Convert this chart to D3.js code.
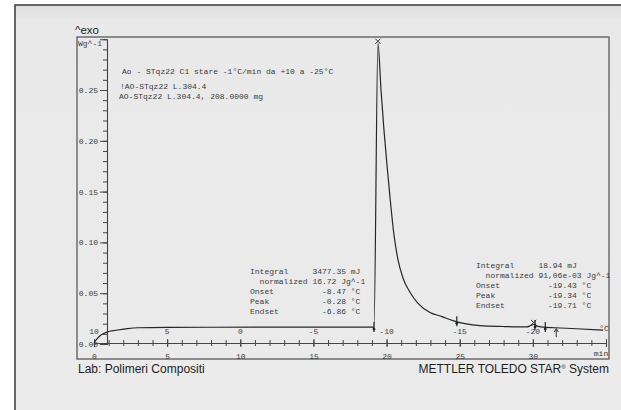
<!DOCTYPE html>
<html>
<head>
<meta charset="utf-8">
<script src="https://cdn.jsdelivr.net/npm/d3@7"></script>
<style>
  html, body { margin: 0; padding: 0; background: #ffffff; }
  svg { display: block; }
  .mono { font-family: "Courier New", "Liberation Mono", monospace; font-size: 8px; fill: #3a3a3a; white-space: pre; }
  .sans { font-family: Arial, "Liberation Sans", sans-serif; fill: #1e1e1e; }
</style>
</head>
<body>
<script>
// DSC cooling run: heat flow (W/g) against time (min), cooling 1 °C/min from +10 °C
const timeMin = [0, 0.2, 0.5, 0.9, 1.5, 2.3, 3.0, 5, 8, 12, 16, 19.0, 19.14, 19.41, 19.62, 19.82,
  20.03, 20.23, 20.51, 20.78, 21.12, 21.60, 22.15, 22.97, 23.79, 24.54, 25.36, 26.38, 28,
  29.6, 29.85, 30.05, 30.3, 30.7, 31.5, 33, 34.8];
const heatFlow = [0.001, 0.005, 0.009, 0.0118, 0.0135, 0.0152, 0.0160, 0.0164, 0.0165, 0.0166,
  0.0167, 0.0167, 0.0167, 0.296, 0.250, 0.211, 0.176, 0.145, 0.107, 0.083, 0.065, 0.051, 0.040,
  0.031, 0.027, 0.023, 0.020, 0.018, 0.0172, 0.0168, 0.0182, 0.0192, 0.0176, 0.0166, 0.0160,
  0.0150, 0.0136];

// Peak maxima (×) and integration limits
const peakTimes = [19.41, 30.05];
const peakValues = [0.296, 0.0192];
const limitTimes = [19.14, 24.8, 30.15, 30.85];
const limitValues = [0.0167, 0.0223, 0.0188, 0.0168];
const arrowTimes = [31.6];

// Axis ticks
const heatTicksMajor = [0, 0.05, 0.10, 0.15, 0.20, 0.25];
const heatTicksMinor = d3.range(0, 31).map(i => i / 100);
const timeTicksMajor = [0, 5, 10, 15, 20, 25, 30, 35];
const timeTicksMinor = d3.range(0, 36);
const timeLabels = ["0", "5", "10", "15", "20", "25", "30", ""];
const tempLabels = ["10", "5", "0", "-5", "-10", "-15", "-20"];
const tempAtTime = [0, 5, 10, 15, 20, 25, 30];

// Text blocks
const headerLines = [
  "Ao - STqz22 C1 stare -1°C/min da +10 a -25°C",
  "!AO-STqz22 L.304.4",
  "AO-STqz22 L.304.4, 208.0000 mg"
];
const resultMain = [
  "Integral     3477.35 mJ",
  "  normalized 16.72 Jg^-1",
  "Onset          -8.47 °C",
  "Peak           -0.28 °C",
  "Endset         -6.86 °C"
];
const resultSmall = [
  "Integral     18.94 mJ",
  "  normalized 91,06e-03 Jg^-1",
  "Onset          -19.43 °C",
  "Peak           -19.34 °C",
  "Endset         -19.71 °C"
];

const W = 621, H = 410;
const svg = d3.select("body").append("svg").attr("width", W).attr("height", H);

// paper
const defs = svg.append("defs");
const grad = defs.append("linearGradient").attr("id", "paper").attr("x1", 0).attr("y1", 0).attr("x2", 0).attr("y2", 1);
grad.append("stop").attr("offset", "0%").attr("stop-color", "#dedede");
grad.append("stop").attr("offset", "4%").attr("stop-color", "#e9e9e9");
grad.append("stop").attr("offset", "100%").attr("stop-color", "#ebebeb");
svg.append("rect").attr("x", 15).attr("y", 5).attr("width", W).attr("height", H)
  .attr("fill", "url(#paper)").attr("stroke", "#444").attr("stroke-width", 1.6);

// plot frame
svg.append("rect").attr("x", 77).attr("y", 37).attr("width", 532).attr("height", 322)
  .attr("fill", "none").attr("stroke", "#5a5a5a").attr("stroke-width", 1.3);

const x = d3.scaleLinear().domain([0, 35]).range([94, 606]);
const y = d3.scaleLinear().domain([0, 0.30]).range([344, 39.2]);

// heat flow axis
const yAxisX = 107;
const yMinor = svg.append("g").attr("transform", `translate(${yAxisX},0)`)
  .call(d3.axisLeft(y).tickValues(heatTicksMinor).tickSize(4).tickFormat(""));
const yMajor = svg.append("g").attr("transform", `translate(${yAxisX},0)`)
  .call(d3.axisLeft(y).tickValues(heatTicksMajor).tickSize(7).tickPadding(2).tickFormat(d3.format(".2f")));
[yMinor, yMajor].forEach(g => {
  g.selectAll("line").attr("stroke", "#444").attr("stroke-width", 1);
  g.select(".domain").attr("stroke", "#444").attr("stroke-width", 1.1);
  g.selectAll("text").attr("class", "mono").style("font-size", "8px").attr("fill", "#555");
});
yMinor.select(".domain").remove();

// time axis
const xAxisY = 343;
const xMinor = svg.append("g").attr("transform", `translate(0,${xAxisY})`)
  .call(d3.axisBottom(x).tickValues(timeTicksMinor).tickSize(3).tickFormat(""));
xMinor.selectAll(".tick line").attr("y1", -3);
const xMajor = svg.append("g").attr("transform", `translate(0,${xAxisY})`)
  .call(d3.axisBottom(x).tickValues(timeTicksMajor).tickSize(4).tickPadding(6)
    .tickFormat((d, i) => timeLabels[i]));
xMajor.selectAll(".tick line").attr("y1", -4);
[xMinor, xMajor].forEach(g => {
  g.selectAll("line").attr("stroke", "#444").attr("stroke-width", 1);
  g.select(".domain").attr("stroke", "#444").attr("stroke-width", 1.1);
  g.selectAll("text").attr("class", "mono").style("font-size", "8px").attr("fill", "#555");
});
xMinor.select(".domain").remove();
svg.append("text").attr("class", "mono").attr("x", 601).attr("y", 356)
  .attr("text-anchor", "middle").attr("fill", "#555").text("min");

// temperature labels along the baseline
svg.append("g").selectAll("text").data(tempLabels).join("text")
  .attr("class", "mono").attr("fill", "#555")
  .attr("x", (d, i) => x(tempAtTime[i])).attr("y", 334)
  .attr("text-anchor", "middle").text(d => d);
svg.append("text").attr("class", "mono").attr("fill", "#555")
  .attr("x", 604).attr("y", 331).attr("text-anchor", "middle").text("°C");

// curve
const pts = timeMin.map((t, i) => [t, heatFlow[i]]);
svg.append("path").datum(pts)
  .attr("fill", "none").attr("stroke", "#262626").attr("stroke-width", 1.2)
  .attr("d", d3.line().x(d => x(d[0])).y(d => y(d[1])).curve(d3.curveMonotoneX));

// peak markers
const px = svg.append("g").attr("stroke", "#333").attr("stroke-width", 1);
peakTimes.forEach((t, i) => {
  const cx = x(t), cy = y(peakValues[i]) - 2, s = 2.6;
  px.append("path").attr("d", `M${cx - s},${cy - s}L${cx + s},${cy + s}M${cx - s},${cy + s}L${cx + s},${cy - s}`);
});

// integration limits
const lim = svg.append("g");
limitTimes.forEach((t, i) => {
  const cx = x(t), cy = y(limitValues[i]);
  lim.append("line").attr("x1", cx).attr("x2", cx).attr("y1", cy - 5).attr("y2", cy + 5)
    .attr("stroke", "#222").attr("stroke-width", 1.2);
  lim.append("circle").attr("cx", cx).attr("cy", cy + 2).attr("r", 1.4).attr("fill", "#222");
});

// arrow
arrowTimes.forEach(t => {
  const cx = x(t);
  svg.append("line").attr("x1", cx).attr("x2", cx).attr("y1", 337).attr("y2", 329.5)
    .attr("stroke", "#333").attr("stroke-width", 1);
  svg.append("path").attr("d", `M${cx - 2},${332}L${cx},${328.5}L${cx + 2},${332}`)
    .attr("fill", "none").attr("stroke", "#333").attr("stroke-width", 1);
});

// axis captions
svg.append("text").attr("class", "sans").attr("x", 75).attr("y", 34)
  .style("font-size", "11.5px").text("^exo");
svg.append("text").attr("class", "mono").attr("x", 78).attr("y", 46).attr("fill", "#555").text("Wg^-1");

// header text
const headerX = [122, 120, 119], headerY = [73.5, 88.5, 98.5];
svg.append("g").selectAll("text").data(headerLines).join("text")
  .attr("class", "mono").attr("x", (d, i) => headerX[i]).attr("y", (d, i) => headerY[i]).text(d => d);

// result blocks
svg.append("g").selectAll("text").data(resultMain).join("text")
  .attr("class", "mono").attr("x", 250).attr("y", (d, i) => 274.2 + i * 10).text(d => d);
svg.append("g").selectAll("text").data(resultSmall).join("text")
  .attr("class", "mono").attr("x", 476).attr("y", (d, i) => 267.5 + i * 10).text(d => d);

// footer
svg.append("text").attr("class", "sans").attr("x", 78).attr("y", 373)
  .style("font-size", "12px").text("Lab: Polimeri Compositi");
const brand = svg.append("text").attr("class", "sans").attr("x", 609).attr("y", 373)
  .attr("text-anchor", "end").style("font-size", "12px");
brand.append("tspan").text("METTLER TOLEDO STAR");
brand.append("tspan").attr("dy", -4).style("font-size", "6px").text("®");
brand.append("tspan").attr("dy", 4).text(" System");
</script>
</body>
</html>
